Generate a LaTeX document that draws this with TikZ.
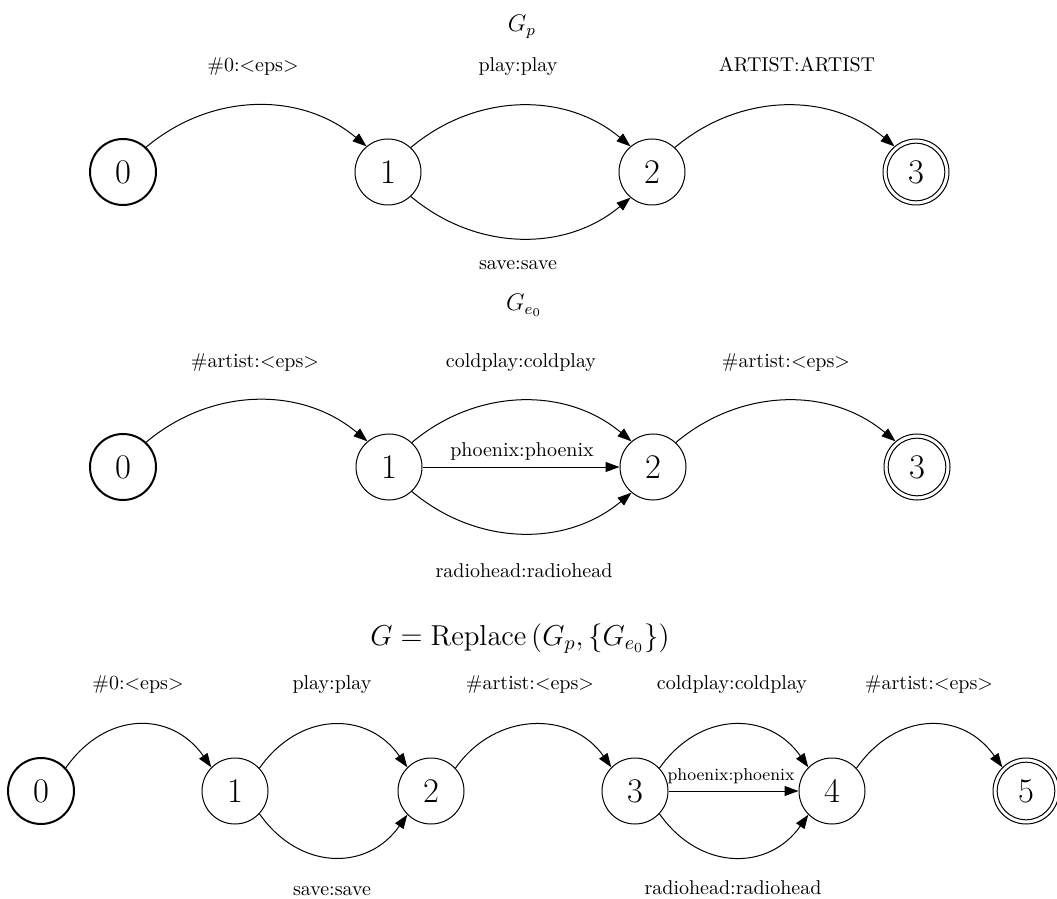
\documentclass[tikz,border=0pt]{standalone}
\usetikzlibrary{arrows.meta}
\begin{document}
\begin{tikzpicture}[x=0.5pt,y=-0.5pt,
  st/.style={circle,draw,line width=0.5pt,minimum size=33pt,inner sep=0pt,font=\LARGE},
  init/.style={st,line width=1pt},
  fin/.style={st,path picture={\draw[line width=0.5pt] (path picture bounding box.center) circle[radius=14.4pt];}},
  lab/.style={font=\normalsize,inner sep=0pt,anchor=base},
  smalllab/.style={font=\fontsize{8.6}{10}\selectfont,inner sep=0pt,anchor=base},
  ttl/.style={inner sep=0pt,anchor=base},
  tr/.style={line width=0.5pt,-{Triangle[length=7pt,width=5pt]}},
  upA/.style={tr,out=40,in=140,looseness=#1},
  dnA/.style={tr,out=-40,in=-140,looseness=#1},
  upB/.style={tr,out=55,in=125,looseness=#1},
  dnB/.style={tr,out=-55,in=-125,looseness=#1},
]
\useasboundingbox (0,0) rectangle (1057,899);

% ---------- G_p ----------
\node[ttl,font=\large] (tp) at (522,32) {$G_p$};
\node[init] (a0) at (123,172) {0};
\node[st]   (a1) at (388,172) {1};
\node[st]   (a2) at (652,172) {2};
\node[fin]  (a3) at (916,172) {3};
\node[lab] (la01) at (253,72) {\#0:<eps>};
\node[lab] (la12) at (518,72) {play:play};
\node[lab] (la12b) at (518,270) {save:save};
\node[lab] (la23) at (797,72) {ARTIST:ARTIST};
\draw[upA=0.99] (a0.47) to (a1.130);
\draw[upA=0.99] (a1.47) to (a2.130);
\draw[dnA=0.99] (a1.-47) to (a2.-130);
\draw[upA=0.99] (a2.47) to (a3.130);

% ---------- G_e0 ----------
\node[ttl,font=\large] (te) at (524,311) {$G_{e_0}$};
\node[init] (b0) at (123,467) {0};
\node[st]   (b1) at (389,467) {1};
\node[st]   (b2) at (653,467) {2};
\node[fin]  (b3) at (917,467) {3};
\node[lab] (lb01) at (255,367) {\#artist:<eps>};
\node[lab] (lb12) at (521,367) {coldplay:coldplay};
\node[lab] (lb12m) at (522,457) {phoenix:phoenix};
\node[lab] (lb12b) at (524,577) {radiohead:radiohead};
\node[lab] (lb23) at (786,367) {\#artist:<eps>};
\draw[upA=0.99] (b0.47) to (b1.130);
\draw[upA=0.99] (b1.47) to (b2.130);
\draw[tr] (b1) -- (b2);
\draw[dnA=0.99] (b1.-47) to (b2.-130);
\draw[upA=0.99] (b2.47) to (b3.130);

% ---------- G ----------
\node[ttl,font=\Large] (tg) at (520,645) {$G=\mathrm{Replace}\left(G_p,\{G_{e_0}\}\right)$};
\node[init] (c0) at (41,791) {0};
\node[st]   (c1) at (235,791) {1};
\node[st]   (c2) at (431,791) {2};
\node[st]   (c3) at (635,791) {3};
\node[st]   (c4) at (832,791) {4};
\node[fin]  (c5) at (1026,791) {5};
\node[lab] (lc01) at (138,689) {\#0:<eps>};
\node[lab] (lc12) at (332,689) {play:play};
\node[lab] (lc12b) at (332,895) {save:save};
\node[lab] (lc23) at (530,689) {\#artist:<eps>};
\node[lab] (lc34) at (732,689) {coldplay:coldplay};
\node[smalllab] (lc34m) at (731,780) {phoenix:phoenix};
\node[lab] (lc34b) at (733,894) {radiohead:radiohead};
\node[lab] (lc45) at (929,689) {\#artist:<eps>};
\draw[upB=1.22] (c0.43) to (c1.135);
\draw[upB=1.20] (c1.43) to (c2.135);
\draw[dnB=1.20] (c1.-43) to (c2.-135);
\draw[upB=1.14] (c2.43) to (c3.135);
\draw[upB=1.195] (c3.43) to (c4.135);
\draw[tr] (c3) -- (c4);
\draw[dnB=1.195] (c3.-43) to (c4.-135);
\draw[upB=1.22] (c4.43) to (c5.135);
\end{tikzpicture}
\end{document}
